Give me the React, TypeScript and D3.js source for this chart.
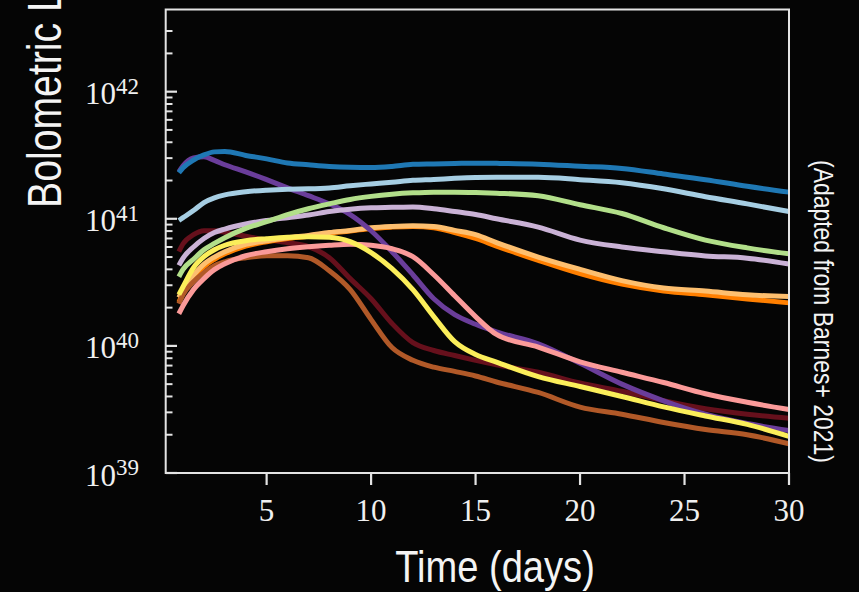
import { useEffect, useRef } from "react";
import * as d3 from "d3";

// time grid (days)
const days = [0.8, 1, 1.5, 2, 2.5, 3, 4, 5, 6, 7, 8, 9, 10, 11, 12, 13, 14, 15, 16, 18, 20, 22, 24, 26, 28, 30];

// bolometric luminosity, in units of 1e40 erg/s
const lumBlue = [23.0, 25.2, 29.0, 31.8, 33.6, 33.9, 31.5, 29.6, 27.5, 26.6, 25.8, 25.4, 25.3, 25.8, 26.8, 27.0, 27.2, 27.4, 27.3, 26.9, 25.9, 24.9, 22.5, 20.3, 18.0, 16.2];
const lumLightBlue = [9.7, 10.2, 11.6, 13.4, 14.6, 15.4, 16.3, 16.8, 17.1, 17.2, 17.5, 18.2, 18.8, 19.4, 20.1, 20.4, 20.8, 21.1, 21.2, 21.2, 20.3, 19.2, 17.2, 14.9, 13.1, 11.4];
const lumLightGreen = [3.5, 4.0, 4.8, 5.7, 6.4, 7.1, 8.4, 9.5, 10.8, 12.0, 13.1, 14.2, 15.0, 15.6, 16.0, 16.2, 16.2, 16.1, 15.9, 15.2, 12.9, 11.0, 8.5, 6.8, 5.9, 5.3];
const lumLightPurple = [4.3, 4.9, 6.0, 7.0, 7.8, 8.3, 9.1, 9.7, 10.2, 10.7, 11.4, 11.9, 12.2, 12.3, 12.4, 12.0, 11.4, 10.8, 10.0, 8.6, 6.8, 6.0, 5.5, 5.1, 4.9, 4.4];
const lumLightOrange = [2.4, 2.8, 3.6, 4.4, 5.0, 5.5, 6.3, 6.7, 7.1, 7.4, 7.8, 8.1, 8.5, 8.7, 8.8, 8.7, 8.1, 7.5, 6.5, 5.0, 4.0, 3.26, 2.85, 2.7, 2.52, 2.45];
const lumOrange = [2.2, 2.6, 3.4, 4.2, 4.8, 5.3, 6.1, 6.6, 7.0, 7.3, 7.7, 8.0, 8.4, 8.6, 8.7, 8.5, 7.8, 7.0, 6.1, 4.7, 3.7, 3.06, 2.7, 2.52, 2.34, 2.18];
const lumYellow = [2.53, 2.92, 4.12, 5.03, 5.71, 6.19, 6.72, 6.97, 7.16, 7.22, 7.16, 6.6, 5.41, 4.05, 2.77, 1.7, 1.08, 0.855, 0.746, 0.574, 0.479, 0.4, 0.331, 0.281, 0.241, 0.194];
const lumPink = [1.79, 2.07, 2.77, 3.38, 3.98, 4.43, 5.12, 5.51, 5.81, 6.03, 6.19, 6.3, 6.19, 5.81, 5.03, 3.63, 2.48, 1.7, 1.23, 0.98, 0.75, 0.62, 0.515, 0.42, 0.36, 0.316];
const lumPurple = [23.4, 26.1, 30.1, 30.7, 28.8, 26.6, 23.4, 20.3, 17.5, 15.2, 13.1, 10.8, 8.05, 5.51, 3.63, 2.35, 1.76, 1.48, 1.29, 1.04, 0.73, 0.5, 0.37, 0.29, 0.245, 0.216];
const lumMaroon = [5.51, 6.36, 7.49, 8.05, 8.05, 7.83, 7.29, 6.84, 6.48, 6.03, 4.94, 3.38, 2.35, 1.5, 1.06, 0.92, 0.84, 0.77, 0.71, 0.62, 0.51, 0.44, 0.37, 0.32, 0.29, 0.27];
const lumBrown = [2.15, 2.53, 3.2, 3.77, 4.27, 4.59, 4.94, 5.12, 5.12, 4.94, 3.9, 2.77, 1.61, 0.97, 0.77, 0.68, 0.63, 0.58, 0.52, 0.43, 0.33, 0.29, 0.25, 0.22, 0.2, 0.17];

const xTicks = [5, 10, 15, 20, 25, 30];
const yMajorTicks = [39, 40, 41, 42];

function App() {
  const svgRef = useRef<SVGSVGElement>(null);

  useEffect(() => {
    document.body.style.margin = "0";
    document.body.style.background = "#050505";

    var width = 859;
    var height = 592;
    var svg = d3.select(svgRef.current);
    svg.selectAll("*").remove();

    svg.append("rect").attr("width", width).attr("height", height).attr("fill", "#050505");

    var x = d3.scaleLinear().domain([0.17, 30]).range([165.7, 789]);
    var y = d3.scaleLog().domain([1e39, 4.43e42]).range([473, 9.5]);

    // drawn bottom to top
    var series = [
      { values: lumMaroon, color: "#66101c" },
      { values: lumOrange, color: "#ff7f00" },
      { values: lumLightOrange, color: "#fdbf6f" },
      { values: lumPurple, color: "#6a3d9a" },
      { values: lumBrown, color: "#b15928" },
      { values: lumPink, color: "#fb9a99" },
      { values: lumYellow, color: "#fbee5a" },
      { values: lumLightPurple, color: "#cab2d6" },
      { values: lumLightGreen, color: "#b2df8a" },
      { values: lumLightBlue, color: "#a6cee3" },
      { values: lumBlue, color: "#1f78b4" },
    ];

    var line = d3
      .line<number>()
      .x((d, i) => x(days[i]))
      .y((d) => y(d * 1e40))
      .curve(d3.curveMonotoneX);

    svg
      .append("g")
      .selectAll("path")
      .data(series)
      .enter()
      .append("path")
      .attr("d", (s) => line(s.values))
      .attr("fill", "none")
      .attr("stroke", (s) => s.color)
      .attr("stroke-width", 5)
      .attr("stroke-linejoin", "round")
      .attr("stroke-linecap", "butt");

    var axisColor = "#e4e4e4";

    // frame
    svg
      .append("rect")
      .attr("x", 165.7)
      .attr("y", 9.5)
      .attr("width", 789 - 165.7)
      .attr("height", 473 - 9.5)
      .attr("fill", "none")
      .attr("stroke", axisColor)
      .attr("stroke-width", 2);

    // y ticks (inward)
    var minor = y.ticks().filter((v) => {
      var m = v / Math.pow(10, Math.floor(Math.log10(v) + 1e-9));
      return Math.round(m) !== 1 && v <= 3.01e42;
    });
    svg
      .append("g")
      .selectAll("line")
      .data(minor)
      .enter()
      .append("line")
      .attr("x1", 165.7)
      .attr("x2", 172.5)
      .attr("y1", (d) => y(d))
      .attr("y2", (d) => y(d))
      .attr("stroke", axisColor)
      .attr("stroke-width", 2);
    svg
      .append("g")
      .selectAll("line")
      .data(yMajorTicks)
      .enter()
      .append("line")
      .attr("x1", 165.7)
      .attr("x2", 177)
      .attr("y1", (d) => y(Math.pow(10, d)))
      .attr("y2", (d) => y(Math.pow(10, d)))
      .attr("stroke", axisColor)
      .attr("stroke-width", 2.2);

    var yLabels = svg
      .append("g")
      .selectAll("text")
      .data(yMajorTicks)
      .enter()
      .append("text")
      .attr("x", 85)
      .attr("y", (d) => y(Math.pow(10, d)) + 12.5)
      .attr("fill", "#f0f0f0")
      .style("font-family", "'Liberation Serif', serif")
      .style("font-size", "31px");
    yLabels.append("tspan").text("10");
    yLabels
      .append("tspan")
      .attr("dy", -10.5)
      .style("font-size", "23px")
      .text((d) => String(d));

    // x ticks (outward)
    svg
      .append("g")
      .selectAll("line")
      .data(xTicks)
      .enter()
      .append("line")
      .attr("x1", (d) => x(d))
      .attr("x2", (d) => x(d))
      .attr("y1", 473)
      .attr("y2", 485)
      .attr("stroke", axisColor)
      .attr("stroke-width", 2.2);
    svg
      .append("g")
      .selectAll("text")
      .data(xTicks)
      .enter()
      .append("text")
      .attr("x", (d) => x(d))
      .attr("y", 521)
      .attr("text-anchor", "middle")
      .attr("fill", "#f0f0f0")
      .style("font-family", "'Liberation Serif', serif")
      .style("font-size", "31px")
      .text((d) => String(d));

    // axis titles
    svg
      .append("text")
      .attr("transform", "translate(61,208) rotate(-90) scale(0.8,1)")
      .attr("fill", "#f4f4f4")
      .style("font-family", "'Liberation Sans', Arial, sans-serif")
      .style("font-size", "49px")
      .text("Bolometric Luminosity");

    svg
      .append("text")
      .attr("transform", "translate(495,582) scale(0.866,1)")
      .attr("text-anchor", "middle")
      .attr("fill", "#f4f4f4")
      .style("font-family", "'Liberation Sans', Arial, sans-serif")
      .style("font-size", "44px")
      .text("Time (days)");

    svg
      .append("text")
      .attr("transform", "translate(814,160) rotate(90) scale(0.85,1)")
      .attr("fill", "#f4f4f4")
      .style("font-family", "'Liberation Sans', Arial, sans-serif")
      .style("font-size", "27px")
      .text("(Adapted from Barnes+ 2021)");
  }, []);

  return (
    <svg
      ref={svgRef}
      width={859}
      height={592}
      style={{ position: "absolute", left: 0, top: 0, display: "block" }}
    ></svg>
  );
}

export default App;
